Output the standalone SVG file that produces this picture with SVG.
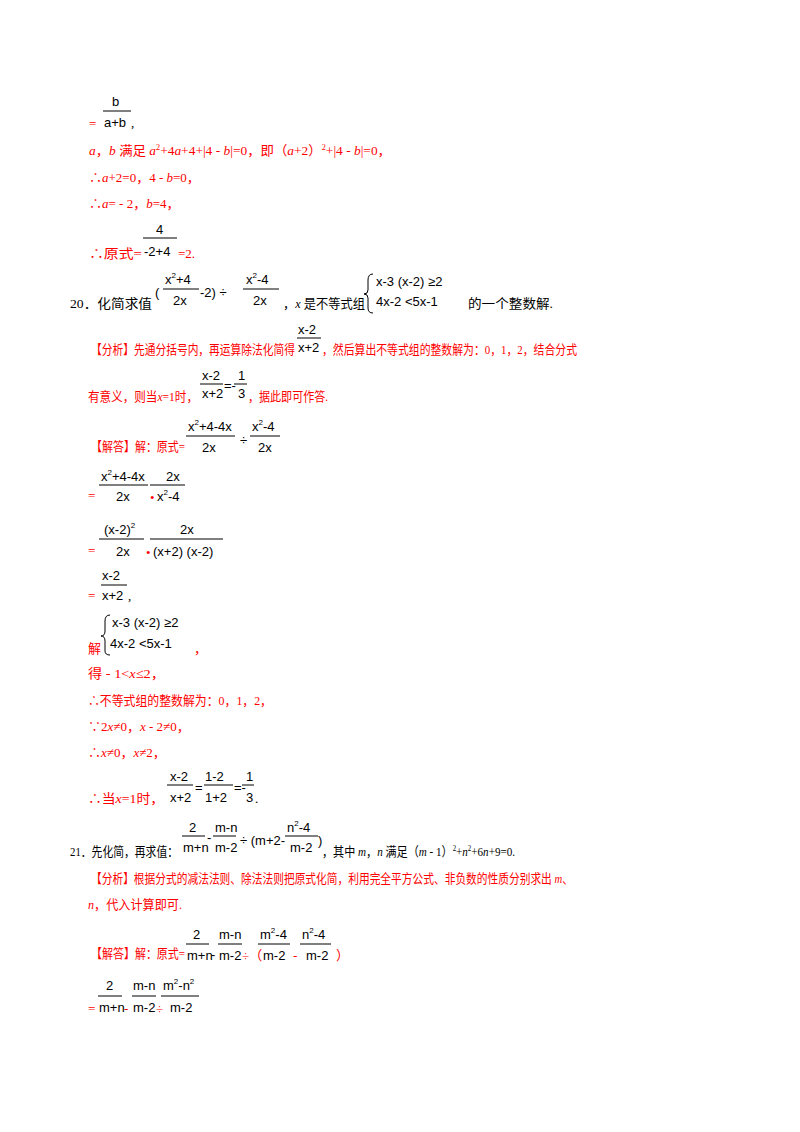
<svg xmlns="http://www.w3.org/2000/svg" width="800" height="1132" viewBox="0 0 800 1132">
<style>
text{font-family:"Liberation Serif","Noto Sans CJK SC",serif;font-size:13px}
.r{fill:#f00}
.k{fill:#000}
.m{font-family:"Liberation Sans","DejaVu Sans",sans-serif;font-size:13px;fill:#000}
.s{font-size:8px}
line{stroke:#000;stroke-width:1}
</style>
<rect width="800" height="1132" fill="#fff"/>
<g id="part19">
<text class="m" x="112" y="106">b</text><line x1="103" y1="111" x2="131" y2="111"/>
<text class="r" x="89" y="128">=</text><text class="m" x="104" y="127">a+b</text><text class="k" x="131" y="127">,</text>
<text class="r" x="89" y="155" textLength="302" lengthAdjust="spacingAndGlyphs"><tspan font-style="italic">a</tspan>，<tspan font-style="italic">b</tspan> 满足 <tspan font-style="italic">a</tspan><tspan class="s" dy="-5">2</tspan><tspan dy="5">+4</tspan><tspan font-style="italic">a</tspan>+4+|4 - <tspan font-style="italic">b</tspan>|=0，即（<tspan font-style="italic">a</tspan>+2）<tspan class="s" dy="-5">2</tspan><tspan dy="5">+|4 - </tspan><tspan font-style="italic">b</tspan>|=0，</text>
<text class="r" x="89" y="182">∴<tspan font-style="italic">a</tspan>+2=0，4 - <tspan font-style="italic">b</tspan>=0，</text>
<text class="r" x="89" y="208">∴<tspan font-style="italic">a</tspan>= - 2，<tspan font-style="italic">b</tspan>=4，</text>
<text class="m" x="156" y="234">4</text><line x1="143" y1="238" x2="177" y2="238"/>
<text class="r" x="89" y="258" textLength="53" lengthAdjust="spacingAndGlyphs">∴原式=</text><text class="m" x="144" y="256">-2+4</text><text class="r" x="178" y="258">=2.</text>
</g>
<g id="q20">
<text class="k" x="70" y="308" textLength="82" lengthAdjust="spacingAndGlyphs">20．化简求值</text>
<text class="m" x="155" y="297">(</text>
<text class="m" x="165" y="284">x<tspan class="s" dy="-6">2</tspan><tspan dy="6">+4</tspan></text><line x1="163" y1="289" x2="199" y2="289"/><text class="m" x="173" y="305">2x</text>
<text class="m" x="200" y="297">-2) ÷</text>
<text class="m" x="246" y="284">x<tspan class="s" dy="-6">2</tspan><tspan dy="6">-4</tspan></text><line x1="243" y1="289" x2="279" y2="289"/><text class="m" x="253" y="305">2x</text>
<text class="k" x="283" y="308" textLength="82" lengthAdjust="spacingAndGlyphs">，<tspan font-style="italic">x</tspan> 是不等式组</text>
<path d="M373 274 Q368 274 368 280 L368 290 Q368 294 364 294 Q368 294 368 298 L368 308 Q368 313 373 313" fill="none" stroke="#000"/>
<text class="m" x="376" y="286">x-3 (x-2) ≥2</text>
<text class="m" x="376" y="306">4x-2 &lt;5x-1</text>
<text class="k" x="468" y="308" textLength="85" lengthAdjust="spacingAndGlyphs">的一个整数解.</text>
</g>
<g id="analysis20">
<text class="m" x="298" y="334">x-2</text><line x1="297" y1="338" x2="321" y2="338"/>
<text class="r" x="91" y="354" textLength="204" lengthAdjust="spacingAndGlyphs">【分析】先通分括号内，再运算除法化简得</text><text class="m" x="298" y="352">x+2</text>
<text class="r" x="322" y="354" textLength="255" lengthAdjust="spacingAndGlyphs">，然后算出不等式组的整数解为：0，1，2，结合分式</text>
<text class="m" x="202" y="380">x-2</text><line x1="200" y1="384" x2="223" y2="384"/><text class="m" x="202" y="398">x+2</text>
<text class="m" x="224" y="390">=-</text><text class="m" x="238" y="380">1</text><line x1="234" y1="384" x2="247" y2="384"/><text class="m" x="238" y="398">3</text>
<text class="r" x="88" y="401" textLength="110" lengthAdjust="spacingAndGlyphs">有意义，则当<tspan font-style="italic">x</tspan>=1时，</text>
<text class="r" x="248" y="401" textLength="80" lengthAdjust="spacingAndGlyphs">，据此即可作答.</text>
</g>
<g id="solution20">
<text class="m" x="188" y="431">x<tspan class="s" dy="-6">2</tspan><tspan dy="6">+4-4x</tspan></text><line x1="186" y1="436" x2="235" y2="436"/><text class="m" x="202" y="452">2x</text>
<text class="m" x="240" y="445">÷</text>
<text class="m" x="252" y="431">x<tspan class="s" dy="-6">2</tspan><tspan dy="6">-4</tspan></text><line x1="250" y1="436" x2="280" y2="436"/><text class="m" x="258" y="452">2x</text>
<text class="r" x="91" y="451" textLength="94" lengthAdjust="spacingAndGlyphs">【解答】解：原式=</text>
<text class="m" x="101" y="481">x<tspan class="s" dy="-6">2</tspan><tspan dy="6">+4-4x</tspan></text><line x1="99" y1="485" x2="148" y2="485"/><text class="m" x="116" y="501">2x</text>
<text class="r" x="88" y="500">=</text><text class="r" x="150" y="502">•</text>
<text class="m" x="166" y="481">2x</text><line x1="150" y1="485" x2="185" y2="485"/><text class="m" x="157" y="501">x<tspan class="s" dy="-6">2</tspan><tspan dy="6">-4</tspan></text>
<text class="m" x="104" y="534">(x-2)<tspan class="s" dy="-6">2</tspan></text><line x1="99" y1="539" x2="144" y2="539"/><text class="m" x="116" y="556">2x</text>
<text class="r" x="88" y="555">=</text><text class="r" x="146" y="557">•</text>
<text class="m" x="180" y="534">2x</text><line x1="150" y1="539" x2="223" y2="539"/><text class="m" x="153" y="556">(x+2) (x-2)</text>
<text class="m" x="102" y="580">x-2</text><line x1="101" y1="585" x2="127" y2="585"/><text class="m" x="102" y="600">x+2</text>
<text class="r" x="88" y="600">=</text><text class="k" x="128" y="600">,</text>
<text class="r" x="88" y="653">解</text>
<path d="M110 615 Q105 615 105 621 L105 631 Q105 636 101 636 Q105 636 105 641 L105 651 Q105 655 110 655" fill="none" stroke="#000"/>
<text class="m" x="112" y="627">x-3 (x-2) ≥2</text>
<text class="m" x="110" y="648">4x-2 &lt;5x-1</text>
<text class="r" x="194" y="653">，</text>
<text class="r" x="88" y="678" textLength="77" lengthAdjust="spacingAndGlyphs">得 - 1&lt;<tspan font-style="italic">x</tspan>≤2，</text>
<text class="r" x="88" y="705" textLength="184" lengthAdjust="spacingAndGlyphs">∴不等式组的整数解为：0，1，2，</text>
<text class="r" x="88" y="731">∵2<tspan font-style="italic">x</tspan>≠0，<tspan font-style="italic">x</tspan> - 2≠0，</text>
<text class="r" x="88" y="757">∴<tspan font-style="italic">x</tspan>≠0，<tspan font-style="italic">x</tspan>≠2，</text>
<text class="m" x="170" y="781">x-2</text><line x1="167" y1="785" x2="193" y2="785"/><text class="m" x="170" y="802">x+2</text>
<text class="m" x="195" y="792">=</text>
<text class="m" x="205" y="781">1-2</text><line x1="204" y1="785" x2="233" y2="785"/><text class="m" x="205" y="802">1+2</text>
<text class="m" x="234" y="792">=-</text><text class="m" x="246" y="781">1</text><line x1="242" y1="785" x2="254" y2="785"/><text class="m" x="246" y="802">3</text>
<text class="r" x="88" y="803" textLength="76" lengthAdjust="spacingAndGlyphs">∴当<tspan font-style="italic">x</tspan>=1时，</text><text class="k" x="255" y="803">.</text>
</g>
<g id="q21">
<text class="k" x="70" y="856" textLength="108" lengthAdjust="spacingAndGlyphs">21．先化简，再求值：</text>
<text class="m" x="189" y="832">2</text><line x1="182" y1="836" x2="205" y2="836"/><text class="m" x="183" y="852">m+n</text>
<text class="m" x="207" y="842">-</text>
<text class="m" x="215" y="832">m-n</text><line x1="213" y1="836" x2="236" y2="836"/><text class="m" x="215" y="852">m-2</text>
<text class="m" x="240" y="845">÷ (m+2-</text>
<text class="m" x="287" y="832">n<tspan class="s" dy="-6">2</tspan><tspan dy="6">-4</tspan></text><line x1="285" y1="836" x2="318" y2="836"/><text class="m" x="290" y="852">m-2</text>
<text class="m" x="318" y="845">)</text>
<text class="k" x="322" y="856" textLength="193" lengthAdjust="spacingAndGlyphs">，其中 <tspan font-style="italic">m</tspan>，<tspan font-style="italic">n</tspan> 满足（<tspan font-style="italic">m</tspan> - 1）<tspan class="s" dy="-5">2</tspan><tspan dy="5">+</tspan><tspan font-style="italic">n</tspan><tspan class="s" dy="-5">2</tspan><tspan dy="5">+6</tspan><tspan font-style="italic">n</tspan>+9=0.</text>
<text class="r" x="91" y="883" textLength="482" lengthAdjust="spacingAndGlyphs">【分析】根据分式的减法法则、除法法则把原式化简，利用完全平方公式、非负数的性质分别求出 <tspan font-style="italic">m</tspan>、</text>
<text class="r" x="88" y="909" textLength="94" lengthAdjust="spacingAndGlyphs"><tspan font-style="italic">n</tspan>，代入计算即可.</text>
<text class="m" x="193" y="939">2</text><line x1="186" y1="944" x2="209" y2="944"/><text class="m" x="187" y="960">m+n</text>
<text class="r" x="91" y="958" textLength="94" lengthAdjust="spacingAndGlyphs">【解答】解：原式=</text>
<text class="m" x="211" y="959">-</text>
<text class="m" x="219" y="939">m-n</text><line x1="218" y1="944" x2="242" y2="944"/><text class="m" x="219" y="960">m-2</text>
<text class="r" x="242" y="960">÷（</text>
<text class="m" x="260" y="939">m<tspan class="s" dy="-6">2</tspan><tspan dy="6">-4</tspan></text><line x1="258" y1="944" x2="290" y2="944"/><text class="m" x="263" y="960">m-2</text>
<text class="r" x="293" y="960">-</text>
<text class="m" x="302" y="939">n<tspan class="s" dy="-6">2</tspan><tspan dy="6">-4</tspan></text><line x1="300" y1="944" x2="331" y2="944"/><text class="m" x="306" y="960">m-2</text>
<text class="r" x="336" y="960">）</text>
<text class="m" x="106" y="990">2</text><line x1="98" y1="996" x2="122" y2="996"/><text class="m" x="99" y="1012">m+n</text>
<text class="r" x="88" y="1013">=</text><text class="r" x="124" y="1013">-</text>
<text class="m" x="133" y="990">m-n</text><line x1="132" y1="996" x2="156" y2="996"/><text class="m" x="133" y="1012">m-2</text>
<text class="r" x="156" y="1013">÷</text>
<text class="m" x="163" y="990">m<tspan class="s" dy="-6">2</tspan><tspan dy="6">-n</tspan><tspan class="s" dy="-6">2</tspan></text><line x1="161" y1="996" x2="199" y2="996"/><text class="m" x="170" y="1012">m-2</text>
</g>
</svg>
